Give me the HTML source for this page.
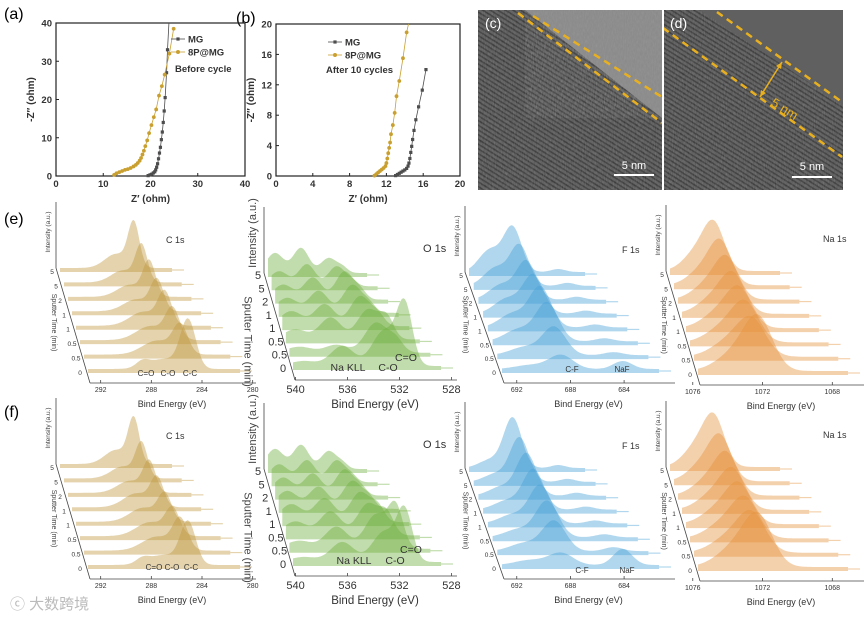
<!DOCTYPE html>
<html><head><meta charset="utf-8">
<style>
html,body{margin:0;padding:0;background:#fff;}
svg{display:block;font-family:"Liberation Sans",Arial,sans-serif;}
</style></head>
<body>
<svg id="fig" width="868" height="618" viewBox="0 0 868 618" xmlns="http://www.w3.org/2000/svg">
<defs>
<filter id="noise" x="0" y="0" width="100%" height="100%">
<feTurbulence type="fractalNoise" baseFrequency="0.9 0.25" numOctaves="2" seed="3" result="t"/>
<feColorMatrix type="saturate" values="0"/>
<feComponentTransfer><feFuncA type="linear" slope="0.3"/></feComponentTransfer>
</filter>
<pattern id="stripes" width="4" height="4" patternUnits="userSpaceOnUse" patternTransform="rotate(32)">
<rect width="4" height="4" fill="#555"/><rect width="4" height="1.6" fill="#333"/>
</pattern>
<clipPath id="clipC"><rect x="478" y="10" width="184" height="180"/></clipPath>
<clipPath id="clipD"><rect x="664" y="10" width="179" height="180"/></clipPath>
</defs>

<text x="4" y="19" font-size="16">(a)</text>
<text x="236" y="23" font-size="16">(b)</text>
<text x="4" y="224" font-size="16">(e)</text>
<text x="4" y="417" font-size="16">(f)</text>

<g clip-path="url(#clipC)">
<rect x="478" y="10" width="184" height="180" fill="url(#stripes)"/>
<rect x="478" y="10" width="184" height="180" fill="#777" filter="url(#noise)"/>
<polygon points="525,10 662,10 662,118" fill="#8a8a8a"/>
<polygon points="525,10 662,10 662,118" fill="#999" filter="url(#noise)" opacity="0.5"/>
<line x1="518" y1="13" x2="662" y2="123" stroke="#e8b020" stroke-width="2.5" stroke-dasharray="7,5"/>
<line x1="533" y1="16" x2="662" y2="97" stroke="#e8b020" stroke-width="2.5" stroke-dasharray="7,5"/>
<line x1="614" y1="175" x2="654" y2="175" stroke="#fff" stroke-width="2"/>
<text x="634" y="169" font-size="11" fill="#fff" text-anchor="middle">5 nm</text>
<text x="485" y="28" font-size="14" fill="#fff">(c)</text>
</g>
<g clip-path="url(#clipD)">
<rect x="664" y="10" width="179" height="180" fill="url(#stripes)"/>
<rect x="664" y="10" width="179" height="180" fill="#666" filter="url(#noise)"/>
<polygon points="700,10 843,10 843,105" fill="#606060"/>
<line x1="663" y1="28" x2="842" y2="157" stroke="#e8b020" stroke-width="2.5" stroke-dasharray="7,5"/>
<line x1="717" y1="12" x2="842" y2="102" stroke="#e8b020" stroke-width="2.5" stroke-dasharray="7,5"/>
<line x1="760" y1="97" x2="782" y2="62" stroke="#e8b020" stroke-width="1.5"/>
<polygon points="782,62 776,66 781,69" fill="#e8b020"/>
<polygon points="760,97 766,93 761,90" fill="#e8b020"/>
<text x="770" y="105" font-size="13" fill="#e8b020" transform="rotate(32 770 105)">5 nm</text>
<line x1="792" y1="177" x2="832" y2="177" stroke="#fff" stroke-width="2"/>
<text x="812" y="170" font-size="11" fill="#fff" text-anchor="middle">5 nm</text>
<text x="670" y="28" font-size="14" fill="#fff">(d)</text>
</g>

<text x="10" y="609" font-size="15" fill="#bbb">ⓒ 大数跨境</text>
<g id="plots"></g>
</svg>

<script>
const aMGx = [19.5,19.9,20.3,20.6,20.9,21.1,21.3,21.5,21.7,21.9,22.1,22.3,22.5,22.7,22.9,23.1,23.4,23.6];
const aMGy = [0.1,0.3,0.5,0.8,1.1,1.6,2.3,3.2,4.5,6,7.5,9.5,11.5,14,17,20.5,27,33];
const aPx = [12.3,12.8,13.4,14.0,14.6,15.2,15.8,16.4,16.9,17.3,17.7,18.0,18.3,18.6,18.9,19.3,19.7,20.2,20.7,21.2,21.8,22.4,23.0,24.0,24.9];
const aPy = [0.3,0.7,1.0,1.3,1.6,1.8,2.1,2.5,2.9,3.4,4.0,4.7,5.6,6.6,7.8,9.3,11.2,13.3,15.4,17.4,21,23.5,26.5,32,38.5];
const bMGx = [13.0,13.2,13.4,13.6,13.8,14.0,14.2,14.35,14.45,14.55,14.65,14.75,14.85,15.0,15.2,15.5,15.9,16.3];
const bMGy = [0.05,0.2,0.35,0.5,0.65,0.8,1.0,1.3,1.7,2.3,3.1,3.9,4.8,6.0,7.4,9.1,11.3,14];
const bPx = [10.7,10.9,11.1,11.3,11.5,11.7,11.9,12.0,12.1,12.2,12.3,12.4,12.5,12.7,12.9,13.1,13.4,13.8,14.2];
const bPy = [0.05,0.25,0.45,0.65,0.85,1.05,1.3,1.7,2.3,3.0,3.7,4.4,5.5,6.7,8.3,10.5,12.5,15.5,18.9];
const aTicksX = [0,10,20,30,40], aTicksY = [0,10,20,30,40];
const bTicksX = [0,4,8,12,16,20], bTicksY = [0,4,8,12,16,20];

const sputterTimes = ["0","0.5","0.5","1","1","2","5","5"];
const c1sCenters = [285.1, 287.0, 288.7];
const c1sSigmas = [0.6, 1.2, 0.5];
const c1sE = [[48,28,30,32,30,34,36,44],[10,14,14,14,12,12,12,14],[6,0,0,0,0,0,0,0]];
const c1sF = [[42,30,26,26,28,30,34,44],[10,14,14,14,14,12,12,14],[5,0,0,0,0,0,0,0]];
const o1sCenters = [539.4, 536.4, 533.2, 531.6];
const o1sSigmas = [1.0, 0.9, 0.9, 0.6];
const o1sE = [[5,6,10,15,15,15,15,20],[20,8,22,22,22,22,22,25],[35,30,30,30,28,28,20,15],[60,12,20,10,8,8,5,5]];
const o1sF = [[5,8,14,18,18,18,18,20],[20,22,24,24,22,22,22,24],[30,34,32,30,28,26,22,18],[50,40,20,14,10,8,6,5]];
const f1sCenters = [691.0, 688.7, 684.1];
const f1sSigmas = [1.1, 0.9, 0.7];
const f1sE = [[4,8,12,14,15,15,18,22],[14,28,38,40,38,38,40,44],[8,3,3,3,3,3,3,3]];
const f1sF = [[5,8,8,9,9,9,8,8],[12,30,36,38,40,42,44,50],[16,4,3,3,3,3,3,3]];
const na1sCenters = [1072.2, 1073.4];
const na1sSigmas = [0.8, 1.1];
const na1sE = [[45,30,32,32,32,34,36,38],[20,18,18,18,18,18,18,22]];
const na1sF = [[42,32,32,32,32,34,36,40],[22,18,18,18,18,18,20,24]];

const NS = "http://www.w3.org/2000/svg";
const root = document.getElementById('plots');
function el(tag, attrs, parent, txt) {
  const e = document.createElementNS(NS, tag);
  for (const k in attrs) e.setAttribute(k, attrs[k]);
  if (txt !== undefined) e.textContent = txt;
  (parent || root).appendChild(e);
  return e;
}

function eis(cfg) {
  const g = el('g', {});
  
  
  const sx = v => cfg.x0 + (v - cfg.xmin) / (cfg.xmax - cfg.xmin) * (cfg.x1 - cfg.x0);
  const sy = v => cfg.y0 - (v - cfg.ymin) / (cfg.ymax - cfg.ymin) * (cfg.y0 - cfg.y1);
  const frame = el('rect', {x: cfg.x0, y: cfg.y1, width: cfg.x1 - cfg.x0, height: cfg.y0 - cfg.y1, fill: 'none', stroke: '#222', 'stroke-width': 1.2}, g);
  
  
  cfg.tx.forEach(t => {
    const x = sx(t);
    el('line', {x1: x, y1: cfg.y0, x2: x, y2: cfg.y0 - 3, stroke: '#222'}, g);
    const lb = el('text', {x: x, y: cfg.y0 + 11, 'font-size': 9.5, 'font-weight': 'bold', 'text-anchor': 'middle', fill: '#333'}, g, t);
    
    
  });
  cfg.ty.forEach(t => {
    const y = sy(t);
    el('line', {x1: cfg.x0, y1: y, x2: cfg.x0 + 3, y2: y, stroke: '#222'}, g);
    const lb = el('text', {x: cfg.x0 - 4, y: y + 3.5, 'font-size': 9.5, 'font-weight': 'bold', 'text-anchor': 'end', fill: '#333'}, g, t);
    
    
  });
  const xt = el('text', {x: (cfg.x0 + cfg.x1) / 2, y: cfg.y0 + 26, 'font-size': 10, 'font-weight': 'bold', 'text-anchor': 'middle', fill: '#333'}, g, "Z′ (ohm)");
  
  
  const yx = cfg.x0 - 22, yy = (cfg.y0 + cfg.y1) / 2;
  const yt = el('text', {x: yx, y: yy, 'font-size': 10, 'font-weight': 'bold', 'text-anchor': 'middle', fill: '#333', transform: `rotate(-90 ${yx} ${yy})`}, g, "-Z″ (ohm)");
  
  
  const series = [
    {xs: cfg.mgx, ys: cfg.mgy, col: '#4d4d4d', sq: true, name: 'series-mg', end: cfg.mgEnd},
    {xs: cfg.px, ys: cfg.py, col: '#c9a030', sq: false, name: 'series-8p-mg', end: cfg.pEnd}
  ];
  series.forEach(s => {
    const sg = el('g', {}, g);
    
    
    let pts = s.xs.map((v, i) => sx(v) + ',' + sy(s.ys[i]));
    if (s.end) pts.push(sx(s.end[0]) + ',' + sy(s.end[1]));
    el('polyline', {points: pts.join(' '), fill: 'none', stroke: s.col, 'stroke-width': 0.8}, sg);
    s.xs.forEach((v, i) => {
      const m = s.sq ? el('rect', {x: sx(v) - 1.6, y: sy(s.ys[i]) - 1.6, width: 3.2, height: 3.2, fill: s.col}, sg)
                     : el('circle', {cx: sx(v), cy: sy(s.ys[i]), r: 1.9, fill: s.col}, sg);
      
      
    });
  });
  const L = cfg.leg;
  const lg = el('g', {}, g);
  
  
  [['MG', '#4d4d4d', true], ['8P@MG', '#c9a030', false]].forEach((it, i) => {
    const y = L[1] + i * 13;
    el('line', {x1: L[0], y1: y, x2: L[0] + 14, y2: y, stroke: it[1], 'stroke-width': 0.8}, lg);
    if (it[2]) el('rect', {x: L[0] + 5.4, y: y - 1.6, width: 3.2, height: 3.2, fill: it[1]}, lg);
    else el('circle', {cx: L[0] + 7, cy: y, r: 2, fill: it[1]}, lg);
    const t = el('text', {x: L[0] + 17, y: y + 3.5, 'font-size': 9.5, 'font-weight': 'bold', fill: '#333'}, lg, it[0]);
    
    
  });
  const note = el('text', {x: L[2], y: L[3], 'font-size': 9.5, 'font-weight': 'bold', fill: '#333'}, g, cfg.note);
  
  
}

eis({name: 'eis-before-cycle-chart', x0: 56, x1: 245, y0: 176, y1: 23, xmin: 0, xmax: 40, ymin: 0, ymax: 40,
  tx: aTicksX, ty: aTicksY, mgx: aMGx, mgy: aMGy, px: aPx, py: aPy, mgEnd: [23.9, 40], pEnd: null,
  leg: [171, 39, 175, 72], note: 'Before cycle'});
eis({name: 'eis-after-10-cycles-chart', x0: 276, x1: 460, y0: 176, y1: 24, xmin: 0, xmax: 20, ymin: 0, ymax: 20,
  tx: bTicksX, ty: bTicksY, mgx: bMGx, mgy: bMGy, px: bPx, py: bPy, mgEnd: null, pEnd: [14.4, 20],
  leg: [328, 42, 326, 73], note: 'After 10 cycles'});

function waterfall(P) {
  const g = el('g', {});
  
  
  const n = sputterTimes.length;
  const geo = k => {
    const t = k / (n - 1);
    return [P.front[0] + (P.back[0] - P.front[0]) * t, P.front[1] + (P.back[1] - P.front[1]) * t, P.front[2] + (P.back[2] - P.front[2]) * t];
  };
  const fs = P.small ? 6.5 : 11;
  const axY = P.front[2] + 10;
  const bk = geo(n - 1);
  el('polyline', {points: `${P.front[0] + 2},${axY} ${bk[0] - 4},${bk[2] - 4} ${bk[0] - 4},${bk[2] - 70}`, fill: 'none', stroke: '#444', 'stroke-width': 0.8}, g);
  el('line', {x1: P.front[0] + 2, y1: axY, x2: P.front[1] + 16, y2: axY, stroke: '#444', 'stroke-width': 0.8}, g);
  const sxF = E => P.front[0] + (P.eHi - E) / (P.eHi - P.eLo) * (P.front[1] - P.front[0]);
  P.ticks.forEach(t => {
    const x = sxF(t);
    el('line', {x1: x, y1: axY, x2: x, y2: axY - 3, stroke: '#444', 'stroke-width': 0.8}, g);
    const lb = el('text', {x: x, y: axY + (P.small ? 9 : 13), 'font-size': P.small ? 7 : 11, 'text-anchor': 'middle', fill: '#333'}, g, t);
    
    
  });
  const xt = el('text', {x: (P.front[0] + P.front[1]) / 2 + 8, y: axY + (P.small ? 24 : 28), 'font-size': P.small ? 9 : 11.5, 'text-anchor': 'middle', fill: '#333'}, g, 'Bind Energy (eV)');
  
  
  const ix = bk[0] - (P.small ? 10 : 12), iy = bk[2] - (P.small ? 40 : 44);
  const it = el('text', {x: ix, y: iy, 'font-size': P.small ? 6.5 : 11, 'text-anchor': 'middle', fill: '#444', transform: `rotate(-90 ${ix} ${iy})`}, g, 'Intensity (a.u.)');
  
  
  const mid = geo(3.5);
  const sx0 = P.small ? mid[0] - 22 : mid[0] - 36, sy0 = P.small ? mid[2] : mid[2] + 18;
  const st = el('text', {x: sx0, y: sy0, 'font-size': P.small ? 7 : 11, 'text-anchor': 'middle', fill: '#444', transform: `rotate(90 ${sx0} ${sy0})`}, g, 'Sputter Time (min)');
  
  
  const ttl = el('text', {x: P.title[0], y: P.title[1], 'font-size': P.small ? 9 : 11, fill: '#333'}, g, P.titleText);
  
  
  for (let k = n - 1; k >= 0; k--) {
    const [xs, xe, y] = geo(k);
    let d = `M${xs},${y}`;
    const N = 90;
    for (let i = 0; i <= N; i++) {
      const x = xs + (xe - xs) * i / N;
      const E = P.eHi + (P.eLo - P.eHi) * i / N;
      let h = 4;
      P.centers.forEach((c, p) => { h += P.heights[p][k] * Math.exp(-((E - c) ** 2) / (2 * P.sigmas[p] ** 2)); });
      d += ` L${x.toFixed(1)},${(y - h).toFixed(1)}`;
    }
    d += ` L${xe},${y} Z`;
    const path = el('path', {d: d, fill: P.color, stroke: 'none'}, g);
    
    
    el('line', {x1: xe, y1: y - 2, x2: xe + 12, y2: y - 2, stroke: P.color, 'stroke-width': 1.2}, g);
    const lb = el('text', {x: xs - (P.small ? 8 : 10), y: y + 2, 'font-size': fs, 'text-anchor': 'middle', fill: '#333'}, g, sputterTimes[k]);
    
    
  }
  P.ann.forEach(a => {
    const t = el('text', {x: a[1], y: a[2], 'font-size': P.small ? 8 : 10.5, 'text-anchor': 'middle', fill: '#333'}, g, a[0]);
    
    
  });
}

const rows = [{dy: 0, tag: 'e', c: c1sE, o: o1sE, f: f1sE, na: na1sE,
    annC: [['C=O',146,376],['C-O',168,376],['C-C',190,376]],
    annO: [['Na KLL',348,371],['C-O',388,371],['C=O',406,361]],
    annF: [['C-F',572,372],['NaF',622,372]]},
  {dy: 196, tag: 'f', c: c1sF, o: o1sF, f: f1sF, na: na1sF,
    annC: [['C=O',154,570],['C-O',172,570],['C-C',191,570]],
    annO: [['Na KLL',354,564],['C-O',395,564],['C=O',411,553]],
    annF: [['C-F',582,573],['NaF',627,573]]}];

rows.forEach(r => {
  const d = r.dy;
  waterfall({name: 'c1s-waterfall-' + r.tag, small: true, front: [88, 240, 373 + d], back: [60, 172, 272 + d], eHi: 293, eLo: 281,
    centers: c1sCenters, sigmas: c1sSigmas, heights: r.c, color: 'rgba(190,150,60,0.42)',
    ticks: [292, 288, 284, 280], title: [166, 243 + d], titleText: 'C 1s', ann: r.annC});
  waterfall({name: 'o1s-waterfall-' + r.tag, small: false, front: [293, 441, 370 + d], back: [268, 367, 277 + d], eHi: 540.2, eLo: 528.8,
    centers: o1sCenters, sigmas: o1sSigmas, heights: r.o, color: 'rgba(110,175,60,0.42)',
    ticks: [540, 536, 532, 528], title: [423, 252 + d], titleText: 'O 1s', ann: r.annO});
  waterfall({name: 'f1s-waterfall-' + r.tag, small: true, front: [502, 659, 373 + d], back: [469, 585, 276 + d], eHi: 693.1, eLo: 681.4,
    centers: f1sCenters, sigmas: f1sSigmas, heights: r.f, color: 'rgba(70,160,215,0.42)',
    ticks: [692, 688, 684], title: [622, 253 + d], titleText: 'F 1s', ann: r.annF});
  waterfall({name: 'na1s-waterfall-' + r.tag, small: true, front: [698, 848, 375 + d], back: [670, 780, 275 + d], eHi: 1075.7, eLo: 1067.1,
    centers: na1sCenters, sigmas: na1sSigmas, heights: r.na, color: 'rgba(228,145,60,0.42)',
    ticks: [1076, 1072, 1068], title: [823, 242 + d], titleText: 'Na 1s', ann: []});
});
</script>
</body></html>
